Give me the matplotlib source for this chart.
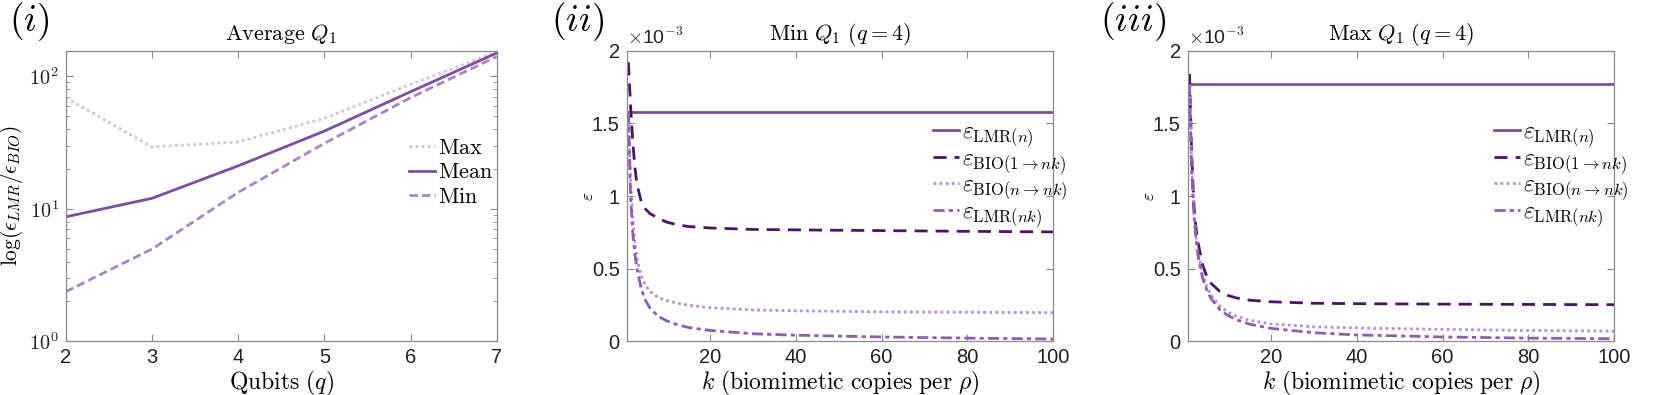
import matplotlib
matplotlib.use("Agg")
import matplotlib.pyplot as plt
from matplotlib.ticker import LogLocator, NullFormatter

plt.rcParams['font.family'] = ['Liberation Sans', 'DejaVu Sans']
plt.rcParams['mathtext.fontset'] = 'cm'

# (i) average Q1 ratio vs qubits
qubits = [2, 3, 4, 5, 6, 7]
ratio_max = [69, 29.3, 32, 48.2, 87, 153]
ratio_mean = [8.7, 12.0, 21.1, 38.6, 76.5, 150]
ratio_min = [2.37, 4.97, 13.3, 31.2, 69, 141]

# (ii)/(iii) error vs k, values in units of 1e-3
k_vals = [1, 1.5, 2, 2.5, 3, 4, 5, 6, 8, 10, 12, 15, 20, 30, 40, 60, 80, 100]
k_ends = [1, 100]

min_lmr_n = [1.58, 1.58]
min_bio_1 = [1.92, 1.62, 1.38, 1.20, 1.08, 0.96, 0.91, 0.88, 0.845, 0.82, 0.805,
             0.79, 0.78, 0.77, 0.767, 0.762, 0.757, 0.753]
min_bio_n = [1.58, 1.10, 0.85, 0.68, 0.57, 0.45, 0.385, 0.345, 0.30, 0.28, 0.265,
             0.248, 0.232, 0.216, 0.21, 0.203, 0.20, 0.197]
min_lmr_nk = [1.58, 1.00, 0.75, 0.60, 0.50, 0.36, 0.28, 0.23, 0.17, 0.14, 0.118,
              0.095, 0.075, 0.052, 0.042, 0.030, 0.022, 0.016]

max_lmr_n = [1.772, 1.772]
max_bio_1 = [1.84, 1.30, 0.95, 0.78, 0.68, 0.53, 0.45, 0.40, 0.345, 0.315, 0.298,
             0.283, 0.272, 0.262, 0.259, 0.256, 0.254, 0.252]
max_bio_n = [1.77, 1.20, 0.90, 0.72, 0.61, 0.47, 0.38, 0.32, 0.245, 0.20, 0.172,
             0.145, 0.12, 0.10, 0.092, 0.082, 0.075, 0.07]
max_lmr_nk = [1.77, 1.18, 0.885, 0.71, 0.59, 0.44, 0.355, 0.295, 0.22, 0.177, 0.148,
              0.118, 0.089, 0.059, 0.044, 0.030, 0.022, 0.018]

c_solid = '#7D4E9F'
c_dark = '#4A1463'
c_dot = '#B88FD0'
c_dashdot = '#8E5DB0'
c_max1 = '#D8BEE8'
c_min1 = '#A985C6'
spine_c = '#8a8a8a'
lw = 2.0

fig = plt.figure(figsize=(16.61, 3.95), dpi=100)
ax1 = fig.add_axes([0.0396, 0.1359, 0.2595, 0.7357])
ax2 = fig.add_axes([0.3773, 0.1359, 0.2568, 0.7357])
ax3 = fig.add_axes([0.7151, 0.1359, 0.2567, 0.7357])


def style(ax):
    for s in ax.spines.values():
        s.set_color(spine_c)
        s.set_linewidth(0.9)
    ax.tick_params(which='both', direction='in', top=True, right=True,
                   color=spine_c, labelcolor='#222222', labelsize=14.5)
    ax.tick_params(which='major', length=5, pad=5)
    ax.tick_params(which='minor', length=3)


# panel (i)
ax1.plot(qubits, ratio_max, color=c_max1, lw=lw, dashes=(1, 1.2), label=r'$\mathrm{Max}$')
ax1.plot(qubits, ratio_mean, color=c_solid, lw=lw, label=r'$\mathrm{Mean}$')
ax1.plot(qubits, ratio_min, color=c_min1, lw=lw, dashes=(3, 1.5), label=r'$\mathrm{Min}$')
ax1.set_yscale('log')
ax1.set_xlim(2, 7)
ax1.set_ylim(1, 156)
ax1.set_xticks([2, 3, 4, 5, 6, 7])
ax1.set_yticks([1, 10, 100])
ax1.set_yticklabels([r'$\mathsf{10}^{\mathsf{0}}$', r'$\mathsf{10}^{\mathsf{1}}$',
                     r'$\mathsf{10}^{\mathsf{2}}$'])
ax1.yaxis.set_minor_locator(LogLocator(base=10, subs=range(2, 10)))
ax1.yaxis.set_minor_formatter(NullFormatter())
style(ax1)
ax1.set_title(r'$\mathrm{Average}\ Q_1$', fontsize=16, pad=8)
ax1.set_xlabel(r'$\mathrm{Qubits}\ (q)$', fontsize=17, labelpad=1)
ax1.set_ylabel(r'$\log(\epsilon_{LMR}/\epsilon_{BIO})$', fontsize=15.5)
ax1.yaxis.set_label_coords(-0.094, 0.5)
ax1.legend(loc='upper left', bbox_to_anchor=(0.775, 0.73), frameon=False, fontsize=16,
           handlelength=1.2, handletextpad=0.1, labelspacing=0.15, borderaxespad=0)

eps_labels = [r'$\varepsilon_{\mathrm{LMR}(n)}$', r'$\varepsilon_{\mathrm{BIO}(1\to nk)}$',
              r'$\varepsilon_{\mathrm{BIO}(n\to nk)}$', r'$\varepsilon_{\mathrm{LMR}(nk)}$']


def k_panel(ax, lmr_n, bio_1, bio_n, lmr_nk, title):
    ax.plot(k_ends, lmr_n, color=c_solid, lw=lw, label=eps_labels[0])
    ax.plot(k_vals, bio_1, color=c_dark, lw=lw, dashes=(4.7, 2.9), label=eps_labels[1])
    ax.plot(k_vals, bio_n, color=c_dot, lw=lw, dashes=(1, 1.2), label=eps_labels[2])
    ax.plot(k_vals, lmr_nk, color=c_dashdot, lw=lw, dashes=(4, 1.5, 1.5, 1.5),
            label=eps_labels[3])
    ax.set_xlim(0.6, 100)
    ax.set_ylim(0, 2)
    ax.set_xticks([20, 40, 60, 80, 100])
    ax.set_yticks([0, 0.5, 1, 1.5, 2])
    ax.set_yticklabels(['0', '0.5', '1', '1.5', '2'])
    style(ax)
    ax.set_title(title, fontsize=16, pad=8)
    ax.set_xlabel(r'$k\ \mathrm{(biomimetic\ copies\ per}\ \rho\mathrm{)}$', fontsize=17,
                  labelpad=1)
    ax.set_ylabel(r'$\varepsilon$', fontsize=13)
    ax.yaxis.set_label_coords(-0.07, 0.5)
    ax.text(0.0, 1.01, r'$\times$10$^{\mathsf{-3}}$', transform=ax.transAxes,
            fontsize=14, color='#222222', ha='left', va='bottom')
    ax.legend(loc='upper left', bbox_to_anchor=(0.695, 0.79), frameon=False, fontsize=17,
              handlelength=1.1, handletextpad=0.15, labelspacing=-0.05, borderaxespad=0)


k_panel(ax2, min_lmr_n, min_bio_1, min_bio_n, min_lmr_nk, r'$\mathrm{Min}\ Q_1\ (q{=}4)$')
k_panel(ax3, max_lmr_n, max_bio_1, max_bio_n, max_lmr_nk, r'$\mathrm{Max}\ Q_1\ (q{=}4)$')

fig.text(0.0055, 0.945, r'$(i)$', fontsize=27, va='center', ha='left')
fig.text(0.332, 0.945, r'$(ii)$', fontsize=27, va='center', ha='left')
fig.text(0.662, 0.945, r'$(iii)$', fontsize=27, va='center', ha='left')

fig.savefig('out.png', dpi=100)
